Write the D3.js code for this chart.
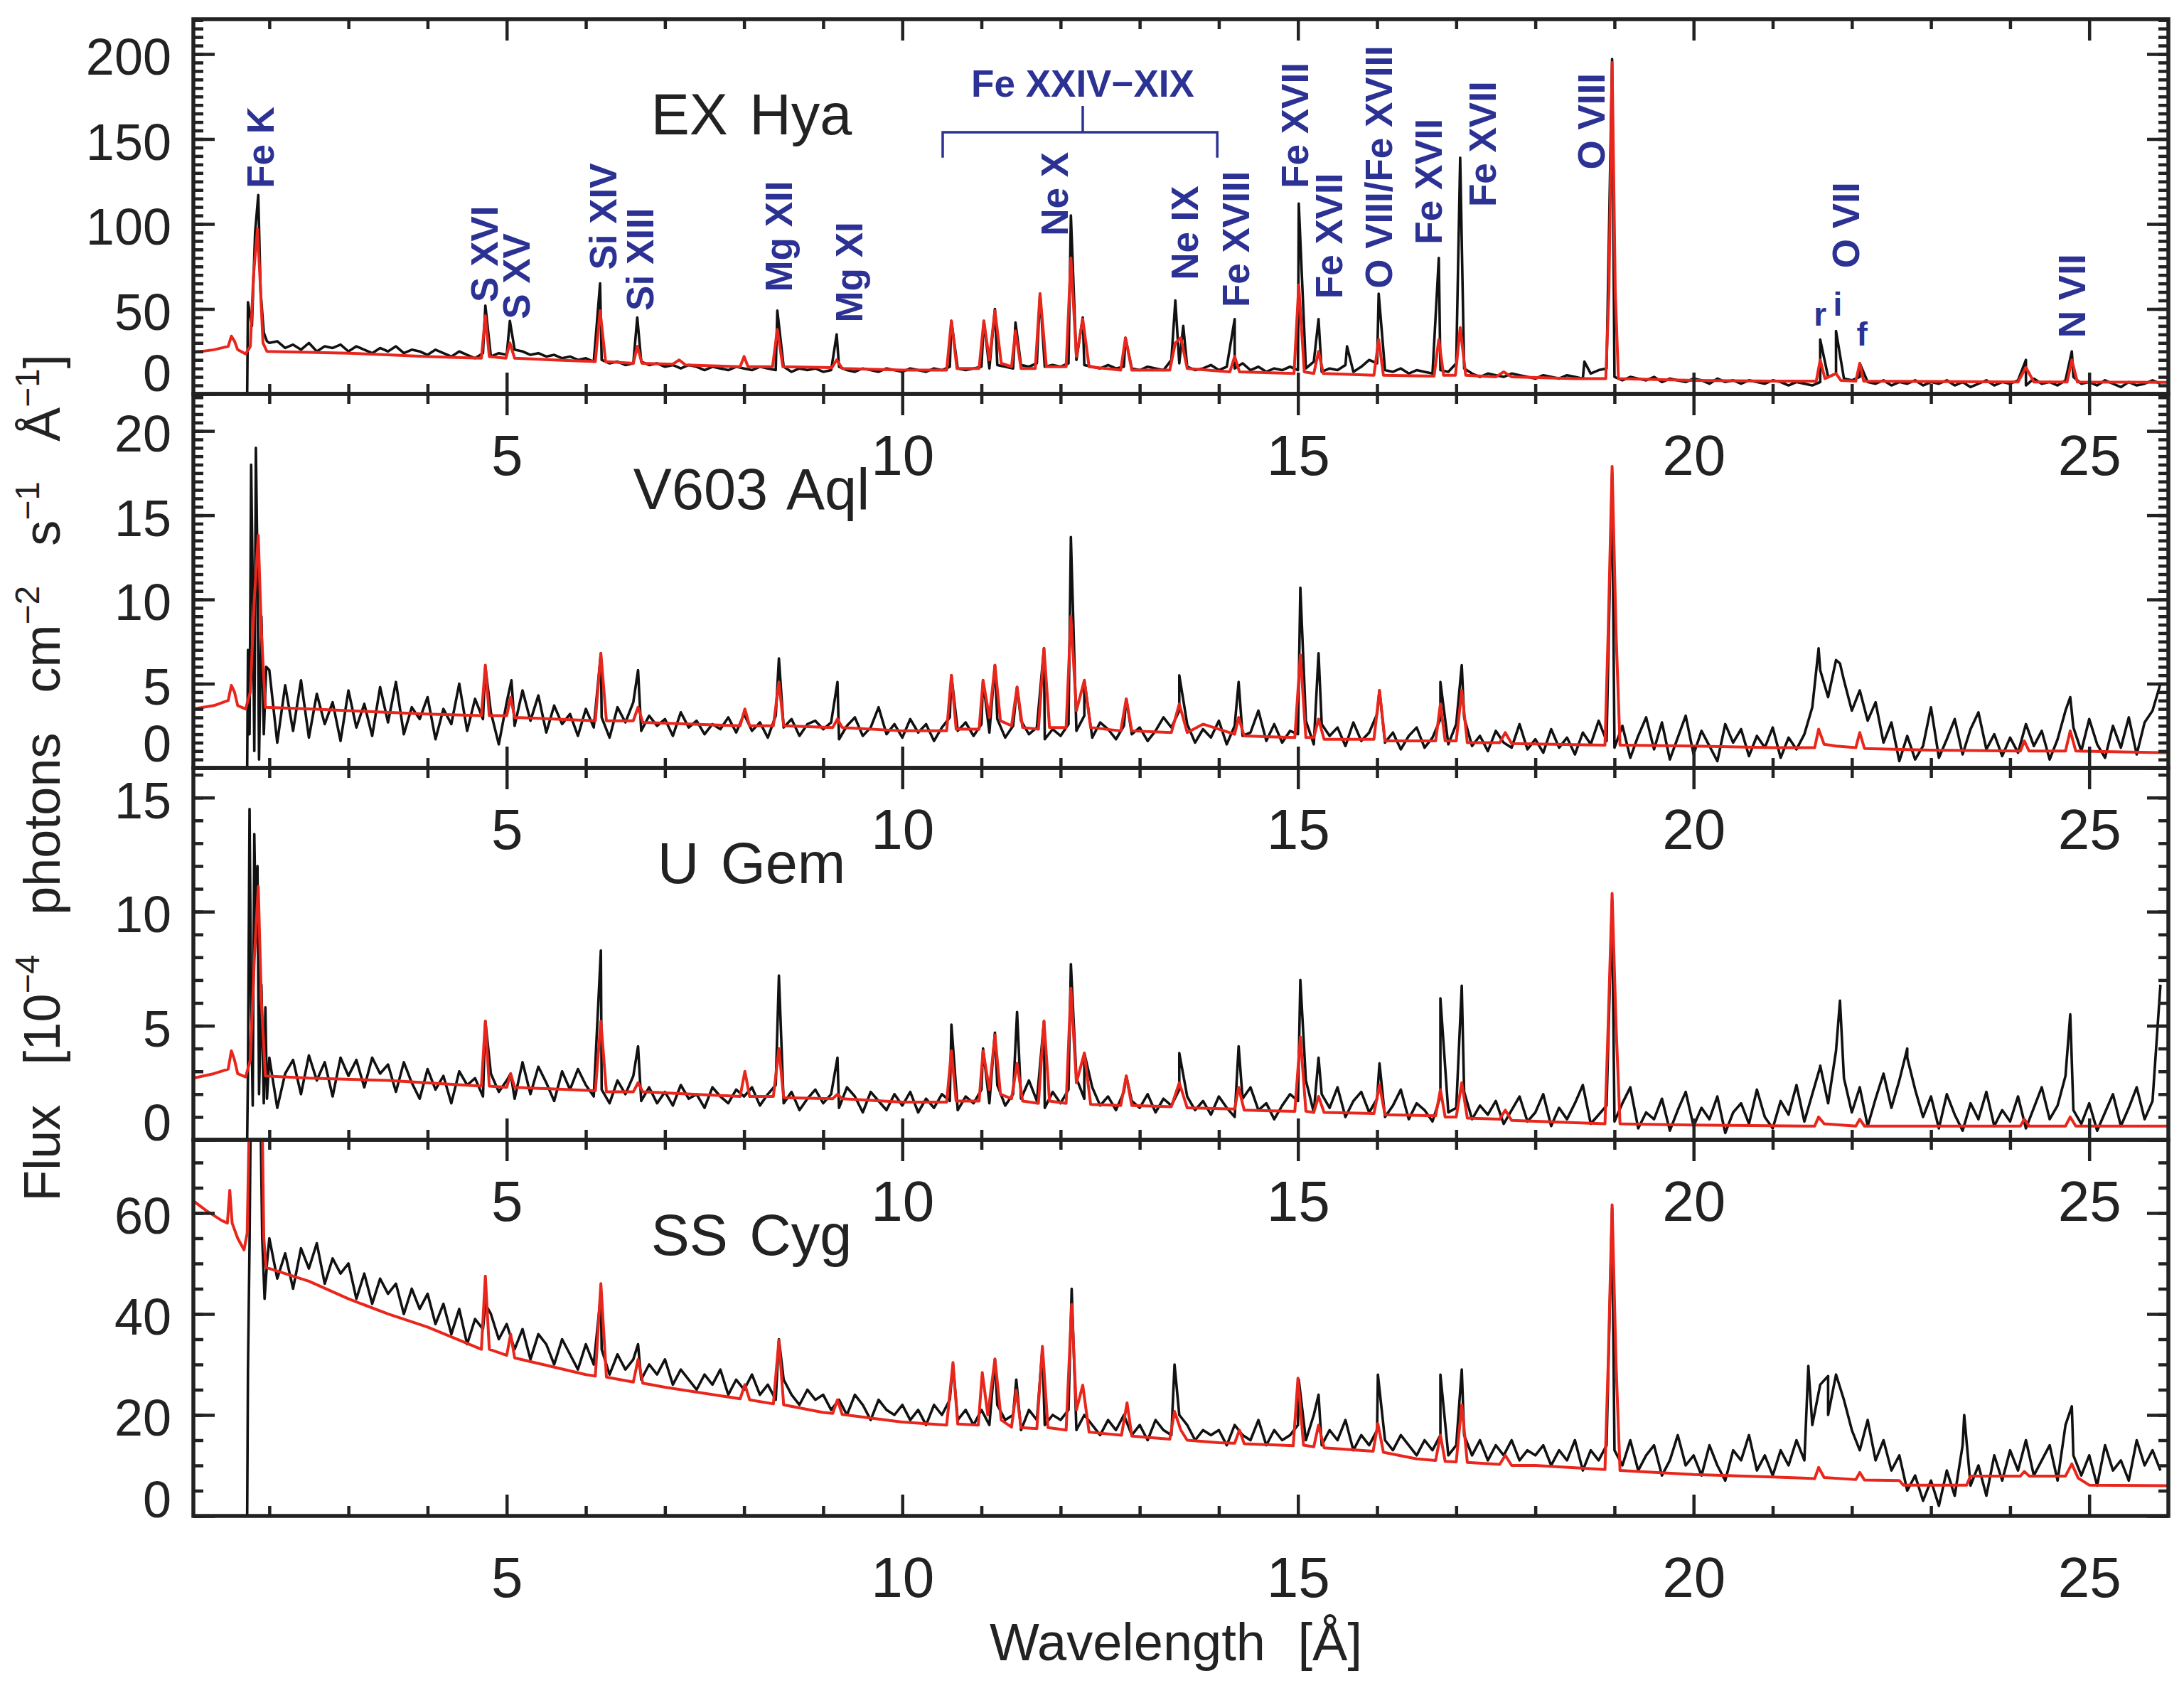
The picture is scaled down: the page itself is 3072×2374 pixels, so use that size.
<!DOCTYPE html>
<html>
<head>
<meta charset="utf-8">
<script src="https://cdn.jsdelivr.net/npm/d3@7"></script>
<style>
  body { margin: 0; background: #fff; }
  text { font-family: "Liberation Sans", Arial, Helvetica, sans-serif; }
</style>
</head>
<body>
<div id="chart"></div>
<script>
// ----------------------------------------------- //
// Chart values
var sourceNames = ["EX Hya", "V603 Aql", "U Gem", "SS Cyg"];
var fluxMax = [220.5, 22.2, 16.3, 74.5];
var fluxTicks = [[0, 50, 100, 150, 200], [0, 5, 10, 15, 20], [0, 5, 10, 15], [0, 20, 40, 60]];
var fluxMinorStep = [5, 0.5, 1, 5];
var waveTicks = [5, 10, 15, 20, 25];
var waveMinorTicks = [2, 3, 4, 6, 7, 8, 9, 11, 12, 13, 14, 16, 17, 18, 19, 21, 22, 23, 24];

// observed spectra are binned: first bin at 2.0 A, 0.1 A per bin
var binStart = 2.0;
var binWidth = 0.1;

// ---- EX Hya ---- //
var exHyaEdge = [[1.72, 0], [1.73, 54], [1.78, 40], [1.82, 95], [1.86, 117], [1.89, 60], [1.93, 36], [1.97, 31]];
var exHyaFlux = [
  30, 31, 27, 29, 26, 30, 25, 28, 27, 29,
  25, 28, 26, 24, 27, 25, 28, 24, 26, 25,
  23, 26, 24, 22, 25, 23, 21, 24, 22, 24,
  23, 26, 25, 23, 24, 22, 23, 21, 22, 20,
  21, 19, 20, 18, 19, 17, 18, 19, 17, 18,
  16, 17, 15, 17, 16, 14, 16, 15, 14, 16,
  15, 14, 16, 15, 14, 16, 13, 15, 14, 15,
  13, 14, 16, 14, 13, 15, 14, 13, 15, 14,
  13, 15, 14, 13, 15, 14, 16, 15, 14, 15,
  16, 15, 17, 16, 15, 17, 16, 18, 16, 17,
  16, 18, 20, 17, 16, 15, 17, 15, 16, 15,
  14, 16, 15, 14, 20, 18, 16, 14, 15, 17,
  14, 16, 15, 18, 14, 16, 13, 15, 14, 16,
  14, 15, 19, 13, 15, 14, 17, 13, 16, 20,
  18, 14, 13, 15, 12, 14, 13, 12, 14, 13,
  18, 15, 12, 10, 12, 11, 10, 12, 11, 10,
  9, 11, 10, 9, 11, 10, 9, 12, 14, 15,
  10, 8, 10, 9, 8, 10, 7, 9, 8, 7,
  9, 8, 6, 9, 7, 8, 6, 8, 7, 6,
  8, 7, 5, 7, 6, 5, 7, 10, 12, 9,
  8, 10, 7, 6, 8, 5, 7, 6, 8, 5,
  7, 6, 8, 5, 7, 4, 6, 8, 5, 7,
  6, 8, 5, 9, 6, 7, 5, 8, 10, 6,
  7, 5, 8, 6, 4, 7, 5, 6, 8, 6
];
var exHyaLines = [[4.73, 52], [5.04, 43], [6.18, 65], [6.65, 45], [8.42, 49], [9.17, 35], [10.62, 43], [11.03, 43],
  [11.17, 50], [11.43, 42], [11.74, 59], [12.13, 105], [12.28, 45], [12.82, 33], [13.45, 55], [13.55, 40],
  [14.2, 44], [15.01, 112], [15.26, 44], [15.62, 28], [16.02, 59], [16.78, 80], [17.05, 139], [18.62, 19],
  [18.97, 197], [21.6, 32], [21.8, 37], [22.1, 18], [24.2, 20], [24.78, 25]];
var exHyaModel = [[1.04, 24.4], [1.3, 26], [1.48, 28], [1.52, 34], [1.56, 31], [1.6, 26], [1.7, 23.5], [1.76, 28],
  [1.8, 70], [1.85, 97], [1.88, 70], [1.92, 30], [1.97, 25], [2.5, 24.5], [3, 24], [3.5, 23], [4, 22],
  [4.68, 21], [4.73, 46], [4.78, 22], [4.99, 21], [5.04, 30], [5.1, 21], [5.6, 20], [6.12, 19], [6.18, 49],
  [6.25, 19], [6.6, 18], [6.65, 28], [6.71, 18], [7.1, 17.5], [7.18, 20], [7.26, 17], [7.95, 16], [8.0, 22],
  [8.05, 16], [8.36, 16], [8.42, 38], [8.49, 16], [9.11, 15.5], [9.17, 20], [9.24, 15], [10, 14], [10.56, 14],
  [10.62, 43], [10.69, 15], [10.97, 15], [11.03, 43], [11.1, 20], [11.17, 49], [11.25, 18], [11.38, 16],
  [11.43, 37], [11.5, 15], [11.68, 15], [11.74, 59], [11.82, 16], [12.07, 16], [12.13, 80], [12.2, 22],
  [12.28, 44], [12.36, 16], [12.76, 14], [12.82, 33], [12.9, 14], [13.38, 14], [13.45, 30], [13.52, 33],
  [13.6, 15], [14.14, 13], [14.2, 22], [14.26, 13], [14.95, 12], [15.01, 64], [15.08, 13], [15.2, 12],
  [15.26, 25], [15.32, 12], [15.96, 11], [16.02, 32], [16.08, 11], [16.72, 10.5], [16.78, 32], [16.84, 11],
  [16.99, 11], [17.05, 39], [17.12, 11], [17.5, 10], [17.6, 13], [17.7, 10], [18.5, 9], [18.89, 9],
  [18.93, 60], [18.97, 195], [19.01, 60], [19.05, 9], [20, 8], [21, 7.5], [21.55, 7.5], [21.6, 20],
  [21.66, 9], [21.8, 12], [21.86, 8], [22.05, 7.5], [22.1, 18], [22.15, 7.5], [24.1, 7], [24.2, 15.6],
  [24.3, 7], [24.72, 7], [24.78, 20], [24.85, 7], [26, 6.8]];

// ---- V603 Aql ---- //
var v603Edge = [[1.72, 0], [1.73, 7], [1.75, 2], [1.77, 18], [1.79, 11], [1.81, 1], [1.83, 19], [1.85, 12],
  [1.87, 0.5], [1.9, 9], [1.93, 2], [1.96, 6]];
var v603Flux = [
  5.8, 1.5, 4.9, 2.2, 5.2, 1.8, 4.4, 2.6, 3.9, 1.6,
  4.6, 2.4, 3.8, 1.9, 4.8, 2.7, 5.1, 2.0, 3.6, 2.9,
  4.2, 1.7, 3.5, 2.6, 5.0, 2.2, 4.1, 2.9, 3.3, 1.4,
  3.9, 2.5, 4.6, 2.8, 4.3, 2.1, 3.7, 2.6, 3.2, 1.9,
  3.5, 2.4, 3.0, 1.8, 3.6, 2.7, 3.9, 2.2, 3.1, 2.5,
  2.9, 1.9, 3.3, 2.4, 2.8, 2.0, 2.6, 2.3, 3.0, 2.1,
  3.2, 2.2, 2.7, 1.8, 3.1, 2.4, 2.9, 1.9, 2.6, 2.8,
  2.3, 2.7, 1.7, 2.5, 3.0, 1.9, 2.4, 3.6, 2.0, 2.6,
  1.8, 2.9, 2.1, 2.6, 1.6, 2.4, 3.0, 2.2, 2.7, 1.9,
  2.6, 2.1, 2.9, 1.8, 2.5, 2.8, 2.0, 2.4, 1.7, 2.3,
  1.9, 2.6, 2.2, 3.1, 1.8, 2.7, 2.3, 1.7, 2.5, 2.0,
  2.4, 1.6, 2.2, 3.0, 2.4, 3.4, 2.6, 1.5, 2.3, 1.8,
  2.8, 1.4, 2.5, 1.9, 2.1, 3.4, 1.6, 2.6, 1.5, 2.2,
  2.0, 2.8, 1.4, 2.6, 1.9, 2.4, 1.3, 2.7, 1.6, 2.1,
  3.2, 1.5, 2.1, 1.1, 1.9, 2.4, 1.2, 1.8, 2.9, 1.4,
  2.6, 3.0, 1.3, 1.9, 1.0, 2.2, 1.5, 1.2, 2.6, 1.1,
  1.7, 0.9, 2.3, 1.2, 1.8, 0.8, 2.1, 1.4, 2.8, 1.6,
  1.2, 2.5, 0.6, 1.9, 3.0, 1.1, 2.7, 0.5, 1.8, 3.1,
  0.8, 2.2, 1.3, 0.4, 2.6, 1.5, 2.3, 0.7, 1.9, 1.2,
  2.4, 0.6, 1.8, 1.1, 2.0, 3.6, 5.8, 4.2, 6.4, 5.2,
  3.4, 4.6, 2.8, 3.9, 1.5, 2.7, 0.4, 1.9, 0.5, 1.3,
  3.6, 0.6, 1.7, 2.9, 0.8, 2.3, 3.3, 1.1, 2.0, 0.7,
  1.8, 0.9, 2.6, 1.3, 2.2, 0.5, 1.7, 3.4, 2.4, 1.0,
  2.9, 1.4, 0.6, 2.5, 1.2, 3.0, 0.8, 2.7, 3.4, 5.0
];
var v603Lines = [[4.73, 6.0], [5.06, 5.2], [6.19, 6.8], [6.66, 5.8], [8.44, 6.5], [9.18, 5.1], [10.62, 5.5],
  [11.02, 5.2], [11.17, 6.1], [11.45, 4.8], [11.79, 7.1], [12.13, 13.7], [12.3, 5.2], [12.83, 4.1],
  [13.5, 5.5], [14.25, 5.1], [15.03, 10.7], [15.26, 6.8], [16.03, 4.6], [16.8, 5.1], [17.07, 6.1],
  [18.97, 17.5], [21.58, 7.1], [21.85, 6.2], [24.76, 4.2]];
var v603Model = [[1.04, 3.5], [1.3, 3.7], [1.48, 4.0], [1.52, 4.9], [1.56, 4.5], [1.6, 3.7], [1.7, 3.5],
  [1.76, 4.5], [1.81, 10], [1.86, 13.8], [1.9, 8], [1.95, 3.6], [2.5, 3.5], [3, 3.4], [4, 3.2], [4.68, 3.1],
  [4.73, 6.1], [4.78, 3.1], [5.0, 3.1], [5.05, 4.2], [5.1, 3.0], [6.12, 2.8], [6.19, 6.8], [6.26, 2.8],
  [6.6, 2.8], [6.66, 3.6], [6.72, 2.7], [7.95, 2.5], [8.01, 3.5], [8.07, 2.5], [8.37, 2.5], [8.44, 5.1],
  [8.5, 2.5], [9.12, 2.4], [9.18, 2.9], [9.24, 2.4], [10, 2.2], [10.56, 2.2], [10.62, 5.5], [10.68, 2.3],
  [10.97, 2.3], [11.02, 5.2], [11.1, 3.0], [11.17, 6.1], [11.24, 2.8], [11.38, 2.5], [11.45, 4.8],
  [11.52, 2.4], [11.72, 2.3], [11.79, 7.1], [11.86, 2.4], [12.07, 2.4], [12.13, 9.0], [12.2, 3.4],
  [12.3, 5.2], [12.38, 2.4], [12.76, 2.2], [12.83, 4.1], [12.9, 2.2], [13.4, 2.1], [13.5, 3.8], [13.6, 2.1],
  [13.8, 2.6], [14.2, 2.0], [14.25, 3.0], [14.32, 1.9], [14.96, 1.8], [15.03, 6.7], [15.1, 1.8], [15.2, 1.8],
  [15.26, 2.9], [15.33, 1.7], [15.96, 1.7], [16.03, 4.6], [16.1, 1.6], [16.74, 1.6], [16.8, 3.8],
  [16.86, 1.6], [17.0, 1.6], [17.07, 4.6], [17.14, 1.5], [17.55, 1.5], [17.62, 2.1], [17.7, 1.45],
  [18.88, 1.35], [18.92, 8], [18.97, 17.9], [19.02, 8], [19.07, 1.35], [20, 1.3], [21, 1.2], [21.53, 1.2],
  [21.58, 2.3], [21.65, 1.4], [21.8, 1.3], [22.05, 1.2], [22.1, 2.1], [22.16, 1.15], [23, 1.05],
  [24.13, 1.0], [24.18, 1.6], [24.24, 1.0], [24.7, 1.0], [24.76, 2.2], [24.83, 1.0], [26, 0.9]];

// ---- U Gem ---- //
var uGemEdge = [[1.72, 0], [1.73, 3], [1.75, 14.5], [1.77, 6], [1.79, 1.5], [1.81, 13.4], [1.83, 9],
  [1.85, 12], [1.87, 2], [1.9, 6.8], [1.93, 1.6], [1.95, 5.8], [1.97, 1.8]];
var uGemFlux = [
  3.6, 1.4, 2.9, 3.5, 2.0, 3.7, 2.6, 3.4, 1.9, 3.6,
  2.8, 3.5, 2.3, 3.6, 2.9, 3.3, 2.1, 3.4, 2.5, 1.8,
  3.1, 2.2, 2.8, 1.6, 3.0, 2.4, 2.7, 1.9, 2.9, 2.1,
  2.6, 1.8, 3.4, 2.0, 3.2, 2.5, 1.7, 3.0, 2.2, 3.1,
  2.4, 1.9, 2.2, 1.6, 2.6, 2.0, 2.8, 1.7, 2.3, 1.6,
  2.1, 1.5, 2.4, 1.8, 2.0, 1.4, 2.3, 1.9, 1.6, 2.2,
  1.9, 2.3, 1.5, 2.0, 2.4, 1.6, 2.1, 1.3, 1.8, 2.2,
  1.6, 2.0, 1.4, 2.3, 1.9, 1.2, 2.1, 1.7, 1.3, 2.0,
  1.5, 2.1, 1.2, 1.8, 1.4, 2.0, 1.7, 1.3, 1.9, 1.6,
  2.2, 1.6, 2.4, 1.5, 2.0, 1.8, 2.6, 1.7, 1.4, 2.1,
  1.6, 2.2, 2.7, 1.8, 2.3, 1.5, 1.9, 1.3, 2.1, 1.7,
  1.4, 2.0, 1.2, 1.8, 1.5, 2.2, 1.9, 1.3, 1.7, 1.1,
  1.9, 1.4, 1.0, 1.8, 2.3, 1.3, 1.6, 0.9, 1.5, 2.0,
  1.7, 2.6, 1.2, 2.0, 1.4, 2.3, 1.0, 1.7, 2.1, 1.2,
  1.8, 1.0, 1.5, 2.2, 0.9, 1.6, 1.3, 0.8, 1.9, 1.2,
  1.4, 2.1, 0.9, 1.5, 1.1, 1.7, 0.7, 1.3, 1.9, 0.8,
  1.2, 2.0, 0.6, 1.4, 0.9, 1.6, 2.4, 0.7, 1.1, 1.5,
  0.8, 1.6, 2.3, 0.5, 1.2, 0.9, 1.8, 0.4, 1.3, 2.1,
  0.6, 1.4, 0.9, 1.9, 0.3, 1.2, 1.6, 0.7, 2.2, 1.0,
  0.5, 1.7, 1.1, 2.4, 0.8, 2.0, 3.2, 1.6, 3.9, 2.7,
  1.2, 2.3, 0.6, 1.8, 2.9, 1.4, 2.6, 3.6, 2.2, 1.0,
  1.9, 0.5, 2.0, 1.1, 0.4, 1.6, 0.9, 2.1, 0.6, 1.3,
  0.8, 1.9, 0.5, 1.4, 2.3, 0.9, 1.5, 2.8, 1.3, 0.7,
  1.6, 0.4, 1.2, 2.0, 0.6, 1.4, 2.3, 0.9, 1.7, 6.8
];
var uGemLines = [[4.73, 5.2], [5.05, 2.9], [6.19, 8.3], [6.66, 4.1], [8.44, 7.2], [9.18, 3.6], [10.62, 5.05],
  [11.02, 4.0], [11.17, 4.7], [11.45, 5.6], [11.79, 5.2], [12.13, 7.7], [12.3, 3.8], [12.83, 2.8],
  [13.5, 3.8], [14.25, 4.1], [15.03, 7.0], [15.26, 3.6], [16.03, 3.35], [16.8, 6.2], [17.07, 6.75],
  [18.6, 2.4], [18.97, 10.5], [21.6, 3.25], [21.85, 6.1], [22.7, 4.0], [24.76, 5.5]];
var uGemModel = [[1.04, 2.7], [1.3, 2.9], [1.48, 3.1], [1.52, 3.9], [1.56, 3.5], [1.6, 2.9], [1.7, 2.75],
  [1.76, 3.5], [1.81, 7.9], [1.86, 11.1], [1.9, 6], [1.95, 2.8], [2.5, 2.7], [3.5, 2.6], [4.68, 2.35],
  [4.73, 5.2], [4.78, 2.35], [5.0, 2.3], [5.05, 2.9], [5.1, 2.3], [6.12, 2.15], [6.19, 5.2], [6.26, 2.1],
  [6.6, 2.1], [6.66, 2.5], [6.72, 2.1], [7.95, 1.9], [8.01, 3.0], [8.07, 1.9], [8.37, 1.9], [8.44, 4.0],
  [8.5, 1.85], [9.12, 1.8], [9.18, 2.0], [9.24, 1.8], [10, 1.65], [10.56, 1.65], [10.62, 3.9], [10.68, 1.7],
  [10.97, 1.7], [11.02, 3.9], [11.1, 2.2], [11.17, 4.6], [11.24, 2.0], [11.38, 1.8], [11.45, 3.35],
  [11.52, 1.7], [11.72, 1.6], [11.79, 5.2], [11.86, 1.7], [12.07, 1.6], [12.13, 6.65], [12.2, 2.5],
  [12.3, 3.8], [12.38, 1.55], [12.76, 1.5], [12.83, 2.8], [12.9, 1.5], [13.4, 1.45], [13.5, 2.5],
  [13.6, 1.4], [14.2, 1.35], [14.25, 2.3], [14.32, 1.3], [14.96, 1.25], [15.03, 4.5], [15.1, 1.25],
  [15.2, 1.2], [15.26, 1.9], [15.33, 1.2], [15.96, 1.15], [16.03, 2.4], [16.1, 1.1], [16.74, 1.05],
  [16.8, 2.2], [16.86, 1.0], [17.0, 1.0], [17.07, 2.5], [17.14, 0.95], [17.55, 0.9], [17.62, 1.3],
  [17.7, 0.85], [18.88, 0.7], [18.92, 5], [18.97, 10.8], [19.02, 5], [19.07, 0.7], [20, 0.65],
  [21.53, 0.6], [21.58, 1.0], [21.65, 0.7], [22.05, 0.6], [22.1, 0.9], [22.16, 0.6], [24.13, 0.6],
  [24.18, 0.9], [24.24, 0.6], [24.7, 0.6], [24.76, 1.0], [24.83, 0.6], [26, 0.6]];

// ---- SS Cyg ---- //
var ssCygEdge = [[1.72, 0], [1.73, 29], [1.75, 54], [1.77, 90], [1.88, 90], [1.91, 55], [1.94, 43], [1.97, 50]];
var ssCygFlux = [
  55, 47, 52, 45, 53, 49, 54, 46, 51, 48,
  50, 43, 48, 42, 47, 44, 46, 40, 45, 41,
  44, 38, 42, 36, 41, 34, 39, 37, 40, 35,
  38, 33, 37, 31, 36, 34, 30, 35, 32, 29,
  34, 30, 33, 28, 32, 29, 31, 27, 30, 28,
  31, 26, 29, 27, 25, 28, 26, 29, 24, 27,
  25, 28, 24, 26, 23, 27, 24, 22, 25, 23,
  24, 21, 23, 20, 24, 22, 19, 23, 21, 20,
  22, 19, 21, 18, 22, 20, 23, 19, 21, 18,
  21, 18, 22, 19, 20, 17, 21, 19, 18, 20,
  19, 21, 17, 20, 18, 16, 19, 17, 20, 16,
  18, 15, 19, 17, 16, 20, 18, 15, 17, 16,
  17, 14, 18, 16, 15, 19, 14, 17, 15, 16,
  18, 15, 20, 14, 17, 15, 19, 13, 16, 14,
  17, 15, 13, 16, 14, 12, 15, 13, 16, 12,
  14, 16, 12, 15, 11, 14, 12, 15, 11, 13,
  12, 14, 10, 13, 11, 15, 9, 13, 11, 14,
  13, 10, 15, 9, 12, 14, 8, 11, 16, 10,
  12, 8, 14, 10, 7, 13, 11, 16, 9, 12,
  8, 13, 10, 15, 11, 18, 26, 20, 28, 23,
  17, 13, 19, 11, 15, 9, 12, 5, 8, 3,
  7, 2, 9, 4, 14, 6, 10, 4, 12, 7,
  13, 9, 15, 8, 11, 14, 7, 18, 12, 8,
  12, 6, 14, 9, 11, 7, 15, 10, 13, 9
];
var ssCygLines = [[4.73, 42], [6.19, 44], [6.66, 34], [8.44, 35], [10.64, 30], [11.17, 31], [11.44, 27],
  [11.77, 33], [12.14, 45], [13.44, 30], [15.01, 27], [15.26, 24], [16.01, 28], [16.8, 28], [17.07, 29],
  [18.97, 61], [21.45, 29.7], [21.7, 27.7], [23.42, 20], [24.78, 21.7]];
var ssCygModel = [[1.04, 62.4], [1.2, 60.5], [1.4, 58.5], [1.47, 58], [1.5, 64.5], [1.53, 58], [1.6, 55],
  [1.68, 52.7], [1.72, 56], [1.76, 90], [1.9, 90], [1.93, 55], [1.96, 49.2], [2.5, 46.5], [3, 43], [3.5, 40],
  [4, 37.4], [4.68, 33], [4.73, 47.5], [4.78, 33], [5, 31.8], [5.05, 36], [5.1, 31.3], [6, 28], [6.12, 27.7],
  [6.19, 46], [6.26, 27.5], [6.6, 26.5], [6.66, 31], [6.72, 26.3], [7, 25.5], [7.95, 23.2], [8.01, 26],
  [8.07, 23], [8.37, 22.2], [8.44, 34.8], [8.5, 22], [9, 20.5], [9.12, 20.3], [9.18, 23], [9.24, 20.1],
  [10, 18.6], [10.56, 18], [10.64, 30.4], [10.7, 18.2], [10.96, 18], [11.01, 28.4], [11.08, 20],
  [11.17, 31.1], [11.25, 19], [11.38, 17.6], [11.44, 24.9], [11.5, 17.5], [11.7, 17.3], [11.77, 33.6],
  [11.84, 17.5], [12.07, 17], [12.14, 41.9], [12.2, 21], [12.28, 25.9], [12.36, 16.6], [12.77, 16],
  [12.84, 22.4], [12.9, 15.8], [13.38, 15.2], [13.44, 20.7], [13.52, 17], [13.6, 15], [14, 14.5],
  [14.2, 14.4], [14.26, 17], [14.32, 14.3], [14.94, 13.9], [15.0, 27.3], [15.07, 14], [15.2, 13.7],
  [15.26, 18], [15.33, 13.5], [15.95, 12.8], [16.01, 18.3], [16.08, 12.6], [16.5, 11.3], [16.74, 11],
  [16.8, 16], [16.86, 10.8], [17.0, 10.7], [17.07, 22], [17.14, 10.6], [17.55, 10.2], [17.62, 12],
  [17.7, 10], [18, 10], [18.88, 9.2], [18.92, 30], [18.97, 61.6], [19.02, 30], [19.07, 9], [20, 8.2],
  [21, 7.7], [21.53, 7.4], [21.58, 9.6], [21.65, 7.6], [22.05, 7.2], [22.1, 8.6], [22.16, 7.1], [22.6, 7.0],
  [22.65, 6.1], [23.45, 6.1], [23.5, 7.9], [24.13, 7.9], [24.18, 8.8], [24.24, 7.9], [24.7, 7.9],
  [24.78, 10.3], [24.86, 7.5], [25, 6.1], [26, 6]];

// ---- line identifications (EX Hya panel, wavelength / flux of label foot) ---- //
var ionNames = ["Fe K", "S XVI", "S XV", "Si XIV", "Si XIII", "Mg XII", "Mg XI", "Ne X", "Ne IX", "Fe XVIII",
  "Fe XVII", "Fe XVII", "O VIII/Fe XVIII", "Fe XVII", "Fe XVII", "O VIII", "O VII", "N VII"];
var ionWaves = [1.88, 4.71, 5.12, 6.21, 6.68, 8.43, 9.32, 11.92, 13.56, 14.21,
  14.96, 15.39, 16.02, 16.65, 17.33, 18.7, 21.92, 24.78];
var ionFeet = [121, 54, 44, 73, 49, 60, 42, 93, 67, 51, 121, 56, 62, 88, 110, 132, 74, 33];
var tripletNames = ["r", "i", "f"];
var tripletWaves = [21.6, 21.82, 22.13];
var tripletFeet = [40, 46, 28.5];
var feGroupName = "Fe XXIV\u2212XIX";
var feGroupWave = [10.51, 12.28, 13.98];
var feGroupFlux = [139, 154, 169.5, 175];

// ----------------------------------------------- //
// Layout
var svgWidth = 3072;
var svgHeight = 2374;
var plotLeft = 272;
var plotRight = 3050;
var panelTops = [27, 554, 1080, 1603];
var panelBottoms = [554, 1080, 1603, 2132];
var yLabelSize = 72;

var inkColor = "#222";
var dataColor = "#111";
var modelColor = "#e8261c";
var ionColor = "#2b3293";

var edges = [exHyaEdge, v603Edge, uGemEdge, ssCygEdge];
var fluxes = [exHyaFlux, v603Flux, uGemFlux, ssCygFlux];
var lines = [exHyaLines, v603Lines, uGemLines, ssCygLines];
var models = [exHyaModel, v603Model, uGemModel, ssCygModel];

function observed(edge, flux, peaks) {
    var binned = flux.map(function(f, i) { return [binStart + i * binWidth, f]; });
    return edge.concat(binned, peaks).sort(function(a, b) { return a[0] - b[0]; });
}

var svg = d3.select("#chart")
    .append("svg")
    .attr("width", svgWidth)
    .attr("height", svgHeight)
    .style("background", "#fff");

var xScale = d3.scaleLinear()
    .domain([1.04, 26])
    .range([plotLeft, plotRight]);

var yScales = sourceNames.map(function(name, i) {
    return d3.scaleLinear()
        .domain([0, fluxMax[i]])
        .range([panelBottoms[i], panelTops[i]]);
});

// vertical centre of a y tick label: ordinary labels sit just below their tick,
// the zero label is placed midway between its neighbours so nothing collides
function labelCentre(i, value) {
    if (value !== 0) return yScales[i](value) + 3;
    var below = labelCentre(i, fluxTicks[i][1]);
    if (i === sourceNames.length - 1) return yScales[i](0) - 24;
    var nextTicks = fluxTicks[i + 1];
    var above = labelCentre(i + 1, nextTicks[nextTicks.length - 1]);
    return (below + above) / 2;
}

function styleAxis(g, size) {
    g.attr("color", inkColor)
        .attr("font-size", size || 80)
        .attr("font-family", "Liberation Sans, Arial, Helvetica, sans-serif");
    g.select(".domain").remove();
    g.selectAll(".tick line").attr("stroke-width", 4.5);
    g.selectAll(".tick text").attr("fill", inkColor);
}

// ----------------------------------------------- //
// Panels
sourceNames.forEach(function(name, i) {
    var top = panelTops[i];
    var bottom = panelBottoms[i];
    var yScale = yScales[i];

    var clipId = "clip" + i;
    svg.append("clipPath")
        .attr("id", clipId)
        .append("rect")
        .attr("x", plotLeft)
        .attr("y", top)
        .attr("width", plotRight - plotLeft)
        .attr("height", bottom - top);

    var line = d3.line()
        .x(d => xScale(d[0]))
        .y(d => yScale(d[1]));

    var plotGroup = svg.append("g").attr("clip-path", `url(#${clipId})`);

    plotGroup.append("path")
        .datum(observed(edges[i], fluxes[i], lines[i]))
        .attr("d", line)
        .attr("fill", "none")
        .attr("stroke", dataColor)
        .attr("stroke-width", 3.6)
        .attr("stroke-linejoin", "round");

    plotGroup.append("path")
        .datum(models[i])
        .attr("d", line)
        .attr("fill", "none")
        .attr("stroke", modelColor)
        .attr("stroke-width", 4)
        .attr("stroke-linejoin", "round");

    // minor ticks on all four sides
    var yMinor = d3.range(0, fluxMax[i], fluxMinorStep[i]);
    svg.append("g").attr("transform", `translate(0, ${bottom})`)
        .call(d3.axisBottom(xScale).tickValues(waveMinorTicks).tickSize(-14).tickFormat(""))
        .call(styleAxis);
    svg.append("g").attr("transform", `translate(0, ${top})`)
        .call(d3.axisTop(xScale).tickValues(waveMinorTicks).tickSize(-14).tickFormat(""))
        .call(styleAxis);
    svg.append("g").attr("transform", `translate(${plotLeft}, 0)`)
        .call(d3.axisLeft(yScale).tickValues(yMinor).tickSize(-14).tickFormat(""))
        .call(styleAxis);
    svg.append("g").attr("transform", `translate(${plotRight}, 0)`)
        .call(d3.axisRight(yScale).tickValues(yMinor).tickSize(-14).tickFormat(""))
        .call(styleAxis);

    // major ticks with labels
    svg.append("g").attr("transform", `translate(0, ${bottom})`)
        .call(d3.axisBottom(xScale).tickValues(waveTicks).tickSize(-30).tickPadding(57).tickFormat(d3.format("d")))
        .call(styleAxis);
    svg.append("g").attr("transform", `translate(0, ${top})`)
        .call(d3.axisTop(xScale).tickValues(waveTicks).tickSize(-30).tickFormat(""))
        .call(styleAxis);
    var leftAxis = svg.append("g").attr("transform", `translate(${plotLeft}, 0)`)
        .call(d3.axisLeft(yScale).tickValues(fluxTicks[i]).tickSize(-30).tickPadding(31).tickFormat(d3.format("d")))
        .call(g => styleAxis(g, yLabelSize));
    leftAxis.selectAll(".tick text")
        .attr("dy", d => (labelCentre(i, d) - yScale(d) + 0.358 * yLabelSize) + "px");
    svg.append("g").attr("transform", `translate(${plotRight}, 0)`)
        .call(d3.axisRight(yScale).tickValues(fluxTicks[i]).tickSize(-30).tickFormat(""))
        .call(styleAxis);

    // frame
    svg.append("rect")
        .attr("x", plotLeft)
        .attr("y", top)
        .attr("width", plotRight - plotLeft)
        .attr("height", bottom - top)
        .attr("fill", "none")
        .attr("stroke", inkColor)
        .attr("stroke-width", 5.5);

    // source name
    svg.append("text")
        .attr("x", 1057)
        .attr("y", top + 162)
        .attr("text-anchor", "middle")
        .attr("font-size", 81)
        .attr("word-spacing", 8)
        .attr("fill", inkColor)
        .text(name);
});

// ----------------------------------------------- //
// Line identifications in the EX Hya panel
var yTop = yScales[0];
var ionGroup = svg.append("g")
    .attr("fill", ionColor)
    .attr("font-weight", "bold")
    .attr("font-size", 53);

ionGroup.selectAll(".ion")
    .data(ionNames)
    .enter()
    .append("text")
    .classed("ion", true)
    .attr("transform", (d, k) => `translate(${xScale(ionWaves[k])}, ${yTop(ionFeet[k])}) rotate(-90)`)
    .attr("dy", "0.36em")
    .attr("text-anchor", "start")
    .text(d => d);

ionGroup.selectAll(".triplet")
    .data(tripletNames)
    .enter()
    .append("text")
    .classed("triplet", true)
    .attr("x", (d, k) => xScale(tripletWaves[k]))
    .attr("y", (d, k) => yTop(tripletFeet[k]))
    .attr("text-anchor", "middle")
    .attr("font-size", 46)
    .text(d => d);

ionGroup.append("text")
    .attr("x", xScale(feGroupWave[1]))
    .attr("y", yTop(feGroupFlux[3]))
    .attr("text-anchor", "middle")
    .text(feGroupName);

ionGroup.append("path")
    .attr("d", [
        "M", xScale(feGroupWave[0]), yTop(feGroupFlux[0]),
        "V", yTop(feGroupFlux[1]),
        "H", xScale(feGroupWave[2]),
        "V", yTop(feGroupFlux[0]),
        "M", xScale(feGroupWave[1]), yTop(feGroupFlux[1]),
        "V", yTop(feGroupFlux[2])
    ].join(" "))
    .attr("fill", "none")
    .attr("stroke", ionColor)
    .attr("stroke-width", 3.5);

// ----------------------------------------------- //
// Axis titles
var yTitle = svg.append("text")
    .attr("transform", "translate(84, 1094) rotate(-90)")
    .attr("text-anchor", "middle")
    .attr("font-size", 72)
    .attr("word-spacing", 36)
    .attr("fill", inkColor);
yTitle.append("tspan").text("Flux [10");
yTitle.append("tspan").attr("dy", -29).attr("font-size", 48).text("\u22124");
yTitle.append("tspan").attr("dy", 29).text(" photons cm");
yTitle.append("tspan").attr("dy", -29).attr("font-size", 48).text("\u22122");
yTitle.append("tspan").attr("dy", 29).text(" s");
yTitle.append("tspan").attr("dy", -29).attr("font-size", 48).text("\u22121");
yTitle.append("tspan").attr("dy", 29).text(" \u00c5");
yTitle.append("tspan").attr("dy", -29).attr("font-size", 48).text("\u22121");
yTitle.append("tspan").attr("dy", 29).text("]");

svg.append("text")
    .attr("x", 1654)
    .attr("y", 2335)
    .attr("text-anchor", "middle")
    .attr("font-size", 74)
    .attr("word-spacing", 25)
    .attr("fill", inkColor)
    .text("Wavelength [\u00c5]");
</script>
</body>
</html>
